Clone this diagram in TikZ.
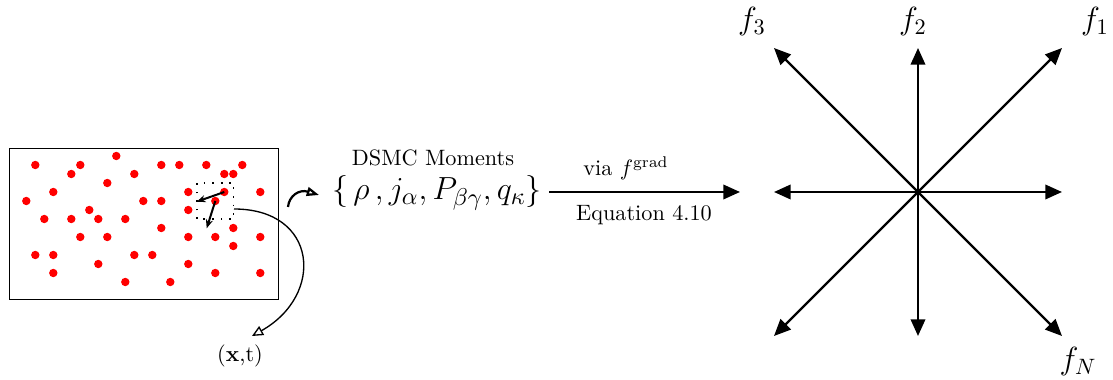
\documentclass[tikz,border=0pt]{standalone}
\usepackage{xcolor}
\usepackage{tikz}
\usetikzlibrary{arrows.meta}

\tikzset{
  dot/.style={fill=red},
  fvec/.style={-{Triangle[length=7.5pt,width=6.5pt]},line width=1pt},
  openarrow/.style={-{Triangle[open,length=5pt,width=4.5pt]},semithick},
}

\begin{document}
\begin{tikzpicture}[x=0.45pt,y=0.45pt]
  \useasboundingbox (0,0) rectangle (1113,380);

  % Draw particle box
  \draw (9,81) rectangle (278,232);
  \foreach \i/\j in {1/1,6/1,10/0,5/2,12/2,15/1,17/1,20/1,24/1,22/2,23/2,9/3,
      3/4,18/4,22/4,26/4,0/5,13/5,15/5,21/5,7/6,18/6,2/7,5/7,8/7,11/7,15/8,
      23/8,6/9,9/9,18/9,21/9,26/9,23/10,1/11,3/11,12/11,14/11,8/12,18/12,
      3/13,21/13,26/13,11/14,16/14}
    \fill[dot] ({26.3+9*\i},{224-9*\j}) circle (4.2);

  % Sample cell with two particle velocities
  \draw[dash pattern=on 0.75pt off 3.1pt,line width=0.8pt] (197,161) rectangle (233.5,197);
  \coordinate (p1) at (224.3,188);
  \coordinate (p2) at (215.3,179);
  \coordinate (v1) at (196.7,178.3);
  \coordinate (v2) at (206.7,151.7);
  \draw[-{Stealth[length=4pt,width=3.2pt]},line width=0.9pt] (p1) -- (v1);
  \draw[-{Stealth[length=4pt,width=3.2pt]},line width=0.9pt] (p2) -- (v2);

  % Cell position label
  \coordinate (cell) at (234,171);
  \coordinate (xtin) at (252,44);
  \node (xt) at (240,24) {$(\mathbf{x}$,t$)$};
  \draw[openarrow] (cell) .. controls (318,171) and (325,85) .. (xtin);

  % Moments
  \coordinate (m0) at (288,173);
  \coordinate (m1) at (319,185);
  \draw[openarrow,line width=1pt,-{Triangle[open,length=5.5pt,width=4pt]}]
    (m0) .. controls (289,184) and (299,191) .. (m1);
  \node (title) at (433,222) {DSMC Moments};
  \node[font=\fontsize{15}{18}\selectfont] (mom) at (437,187) {$\{\,\rho\,,j_\alpha,P_{\beta\gamma},q_\kappa\}$};

  % Arrow to the distribution
  \coordinate (a0) at (549,188);
  \coordinate (a1) at (740,188);
  \draw[fvec] (a0) -- (a1);
  \node (via) at (626,212) {via $f^{\mathrm{grad}}$};
  \node (eqn) at (644,165) {Equation 4.10};

  % Lattice velocities
  \coordinate (c) at (918,188);
  \foreach \a in {0,45,...,315}
    \draw[fvec] (c) -- ++(\a:{144/max(abs(cos(\a)),abs(sin(\a)))});

  % Labels
  \node[font=\Large] (f3) at (752,358) {$f_3$};
  \node[font=\Large] (f2) at (913,358) {$f_2$};
  \node[font=\Large] (f1) at (1095,358) {$f_1$};
  \node[font=\Large] (fN) at (1078,18) {$f_N$};
\end{tikzpicture}
\end{document}
